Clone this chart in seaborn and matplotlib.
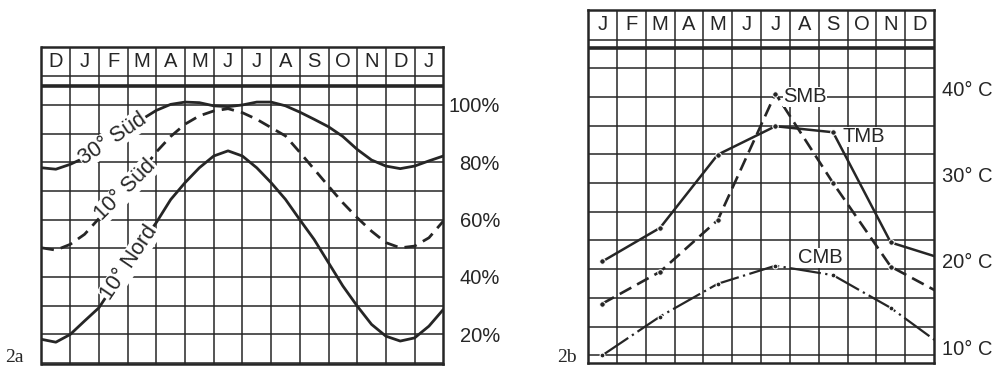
import numpy as np
import matplotlib
matplotlib.use('Agg')
import matplotlib.pyplot as plt
import seaborn as sns

sns.set_style('white')
plt.rcParams['font.family'] = ['Liberation Sans', 'DejaVu Sans']

ink = '#262626'

# --- 2a: relative day length, read at half-month steps (column edge / centre)
months_a = ['D', 'J', 'F', 'M', 'A', 'M', 'J', 'J', 'A', 'S', 'O', 'N', 'D', 'J']
half_steps_a = [i / 2 - 0.5 for i in range(29)]
sued30 = [78.1, 77.6, 79.3, 81.6, 85.0, 88.3, 91.6, 95.0, 98.1, 100.2, 101.0, 100.8,
          99.7, 99.4, 100.0, 101.0, 101.0, 99.7, 97.5, 95.0, 92.4, 89.0, 84.5, 80.8,
          78.7, 77.8, 78.7, 80.5, 82.2]
sued10 = [50.2, 49.4, 51.4, 54.9, 60.4, 65.9, 71.4, 77.1, 83.6, 89.0, 93.3, 96.2,
          97.9, 98.7, 97.3, 95.0, 92.1, 89.2, 83.5, 77.6, 71.7, 65.9, 60.7, 56.0,
          52.0, 50.2, 50.8, 53.7, 59.5]
nord10 = [18.3, 17.3, 20.0, 24.7, 29.3, 36.9, 44.4, 52.0, 59.0, 67.0, 72.9, 78.1,
          82.2, 84.0, 82.2, 78.1, 72.9, 67.1, 60.0, 53.1, 45.0, 36.9, 29.9, 23.5,
          19.4, 17.7, 18.8, 22.9, 28.7]
pct_labels = [20, 40, 60, 80, 100]

# --- 2b: temperatures, every second month (last value = next January)
months_b = ['J', 'F', 'M', 'A', 'M', 'J', 'J', 'A', 'S', 'O', 'N', 'D']
pos_b = [0, 2, 4, 6, 8, 10, 12]
tmb = [20.9, 24.8, 33.3, 36.6, 35.9, 23.1, 21.0]
smb = [16.0, 19.7, 25.7, 40.4, 30.0, 20.3, 16.7]
cmb = [10.0, 14.5, 18.3, 20.4, 19.3, 15.5, 10.6]
temp_labels = [10, 20, 30, 40]

fig = plt.figure(figsize=(10.04, 3.66), dpi=100)
ax_a = fig.add_axes([41.5 / 1004, 2 / 366, 401.8 / 1004, 317 / 366])
ax_b = fig.add_axes([588 / 1004, 3 / 366, 346 / 1004, 353 / 366])


def grid_frame(ax, ncols, ylo, yhi, hlines, thick_y):
    ax.set_xlim(-0.5, ncols - 0.5)
    ax.set_ylim(ylo, yhi)
    ax.set_xticks(np.arange(0.5, ncols - 0.5))
    ax.set_yticks(hlines)
    ax.grid(True, color=ink, lw=1.1)
    ax.tick_params(length=0, labelbottom=False, labelleft=False)
    for sp in ax.spines.values():
        sp.set_visible(True)
        sp.set_color(ink)
        sp.set_linewidth(1.8)
    ax.axhline(thick_y, color=ink, lw=2.6)
    ax.set_xlabel('')
    ax.set_ylabel('')


# panel a
grid_frame(ax_a, 14, 9.7, 120.2, np.arange(10, 111, 10), 106.6)
for i, m in enumerate(months_a):
    ax_a.text(i, 115.2, m, ha='center', va='center', fontsize=14.5, color=ink)
sns.lineplot(x=half_steps_a, y=sued30, ax=ax_a, color=ink, lw=2.0)
sns.lineplot(x=half_steps_a, y=sued10, ax=ax_a, color=ink, lw=2.0, linestyle=(0, (4.5, 2.6)))
sns.lineplot(x=half_steps_a, y=nord10, ax=ax_a, color=ink, lw=2.0)
box = dict(facecolor='white', edgecolor='none', pad=0.5)
ax_a.text(1.99, 88.2, '30° Süd', rotation=34, ha='center', va='center',
          fontsize=15.5, color=ink, bbox=box, rotation_mode='anchor')
ax_a.text(2.43, 70.4, '10° Süd', rotation=45, ha='center', va='center',
          fontsize=15.5, color=ink, bbox=box, rotation_mode='anchor')
ax_a.text(2.57, 45.1, '10° Nord', rotation=56, ha='center', va='center',
          fontsize=15.5, color=ink, bbox=box, rotation_mode='anchor')
for p in pct_labels:
    ax_a.text(1 + 56.7 / 401.8, p - 0.6, f'{p}%', transform=ax_a.get_yaxis_transform(),
              ha='right', va='center', fontsize=14.5, color=ink)

# panel b
grid_frame(ax_b, 12, 9.1, 50.1, [10 + k * 10 / 3 for k in range(12)], 45.7)
for i, m in enumerate(months_b):
    ax_b.text(i, 48.4, m, ha='center', va='center', fontsize=14.5, color=ink)
sns.lineplot(x=pos_b, y=tmb, ax=ax_b, color=ink, lw=1.8, marker='o', markersize=4)
sns.lineplot(x=pos_b, y=smb, ax=ax_b, color=ink, lw=1.9, linestyle=(0, (5, 2.5)),
             marker='o', markersize=4)
sns.lineplot(x=pos_b, y=cmb, ax=ax_b, color=ink, lw=1.6, linestyle=(0, (14, 2, 1, 2)),
             marker='o', markersize=3.5)
box_b = dict(facecolor='white', edgecolor='none', pad=0.3)
ax_b.text(6.26, 40.0, 'SMB', ha='left', va='center', fontsize=14.5, color=ink, bbox=box_b)
ax_b.text(8.31, 35.35, 'TMB', ha='left', va='center', fontsize=14.5, color=ink, bbox=box_b)
ax_b.text(6.78, 21.3, 'CMB', ha='left', va='center', fontsize=14.5, color=ink, bbox=box_b)
for t in temp_labels:
    ax_b.annotate(f'{t}° C', xy=(1, t), xycoords=ax_b.get_yaxis_transform(),
                  xytext=(6, 4.5), textcoords='offset points',
                  ha='left', va='center', fontsize=14.5, color=ink)

fig.text(5 / 1004, 4 / 366, '2a', family=['Liberation Serif'], fontsize=14, color=ink,
         va='baseline')
fig.text(557 / 1004, 4 / 366, '2b', family=['Liberation Serif'], fontsize=14, color=ink,
         va='baseline')

fig.savefig('out.png', dpi=100, facecolor='white')
